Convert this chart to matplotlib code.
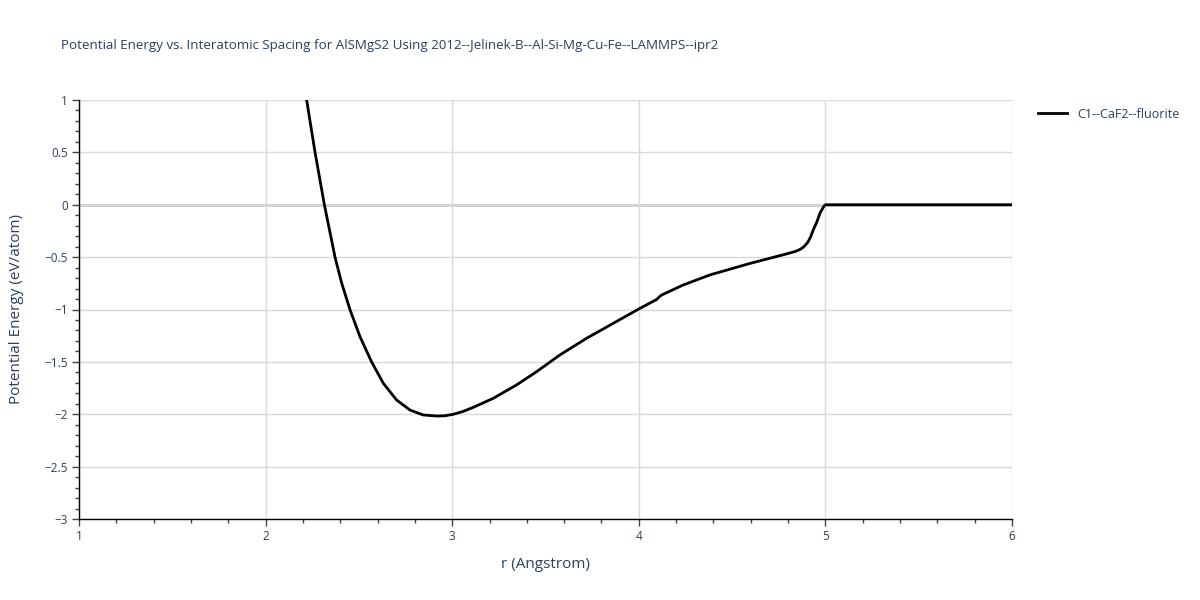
import matplotlib
matplotlib.use("Agg")
import matplotlib.pyplot as plt
from matplotlib.ticker import MultipleLocator

r = [2.22, 2.265, 2.315, 2.372, 2.408, 2.452, 2.506, 2.568, 2.631, 2.702, 2.774, 2.845,
     2.917, 2.96, 3.006, 3.06, 3.113, 3.22, 3.345, 3.452, 3.577, 3.72, 3.863, 4.006,
     4.095, 4.11, 4.122, 4.238, 4.381, 4.596, 4.79, 4.84, 4.866, 4.885, 4.905, 4.92,
     4.935, 4.955, 4.971, 4.99, 5.0, 5.5, 6.0]
energy = [1.0, 0.5, 0.0, -0.5, -0.75, -1.0, -1.26, -1.50, -1.705, -1.864, -1.96, -2.007,
          -2.017, -2.015, -2.0, -1.972, -1.934, -1.848, -1.72, -1.594, -1.434, -1.275, -1.132, -0.989,
          -0.905, -0.879, -0.862, -0.766, -0.67, -0.56, -0.47, -0.445, -0.425, -0.40, -0.36, -0.31,
          -0.24, -0.16, -0.08, -0.02, 0.0, 0.0, 0.0]

title = "Potential Energy vs. Interatomic Spacing for AlSMgS2 Using 2012--Jelinek-B--Al-Si-Mg-Cu-Fe--LAMMPS--ipr2"
series_name = "C1--CaF2--fluorite"
xlabel = "r (Angstrom)"
ylabel = "Potential Energy (eV/atom)"

txt = "#2a3f5f"
plt.rcParams['font.family'] = ['Open Sans', 'DejaVu Sans']

fig = plt.figure(figsize=(12, 6), dpi=100)
ax = fig.add_axes([79/1200, 81/600, (1012-79)/1200, (519-100)/600])

ax.plot(r, energy, color="black", lw=2, label=series_name, zorder=3,
        solid_joinstyle="round")

ax.set_xlim(1, 6)
ax.set_ylim(-3, 1)
ax.xaxis.set_major_locator(MultipleLocator(1))
ax.xaxis.set_minor_locator(MultipleLocator(0.2))
ax.yaxis.set_major_locator(MultipleLocator(0.5))
ax.yaxis.set_minor_locator(MultipleLocator(0.1))

ax.grid(True, which="major", color="#d9d9d9", lw=1, zorder=0)
ax.axhline(0, color="#c8c8c8", lw=2, zorder=1)

for s in ["top", "right"]:
    ax.spines[s].set_visible(False)
for s in ["left", "bottom"]:
    ax.spines[s].set_color("black")
    ax.spines[s].set_linewidth(1)

ax.tick_params(axis="both", which="major", length=5, width=1, color="#444444",
               labelsize=8.5, labelcolor=txt, pad=3)
ax.tick_params(axis="both", which="minor", length=3, width=1, color="#444444")

def fmt_y(v, pos):
    if abs(v) < 1e-9:
        return "0"
    s = ("%g" % v)
    return s.replace("-", "\u2212")

ax.yaxis.set_major_formatter(plt.FuncFormatter(fmt_y))
ax.xaxis.set_major_formatter(plt.FuncFormatter(lambda v, p: "%d" % v))

ax.set_xlabel(xlabel, fontsize=11, color=txt, labelpad=10)
ax.set_ylabel(ylabel, fontsize=11, color=txt, labelpad=15)

fig.text(61/1200, 1 - 45/600, title, fontsize=9.6, color=txt, va="center", ha="left")

leg = ax.legend(loc="upper left", bbox_to_anchor=(1.02, 1.0), frameon=False,
                fontsize=9, handlelength=2.3, labelcolor=txt, borderaxespad=0.2)

fig.savefig("out.png", dpi=100)
